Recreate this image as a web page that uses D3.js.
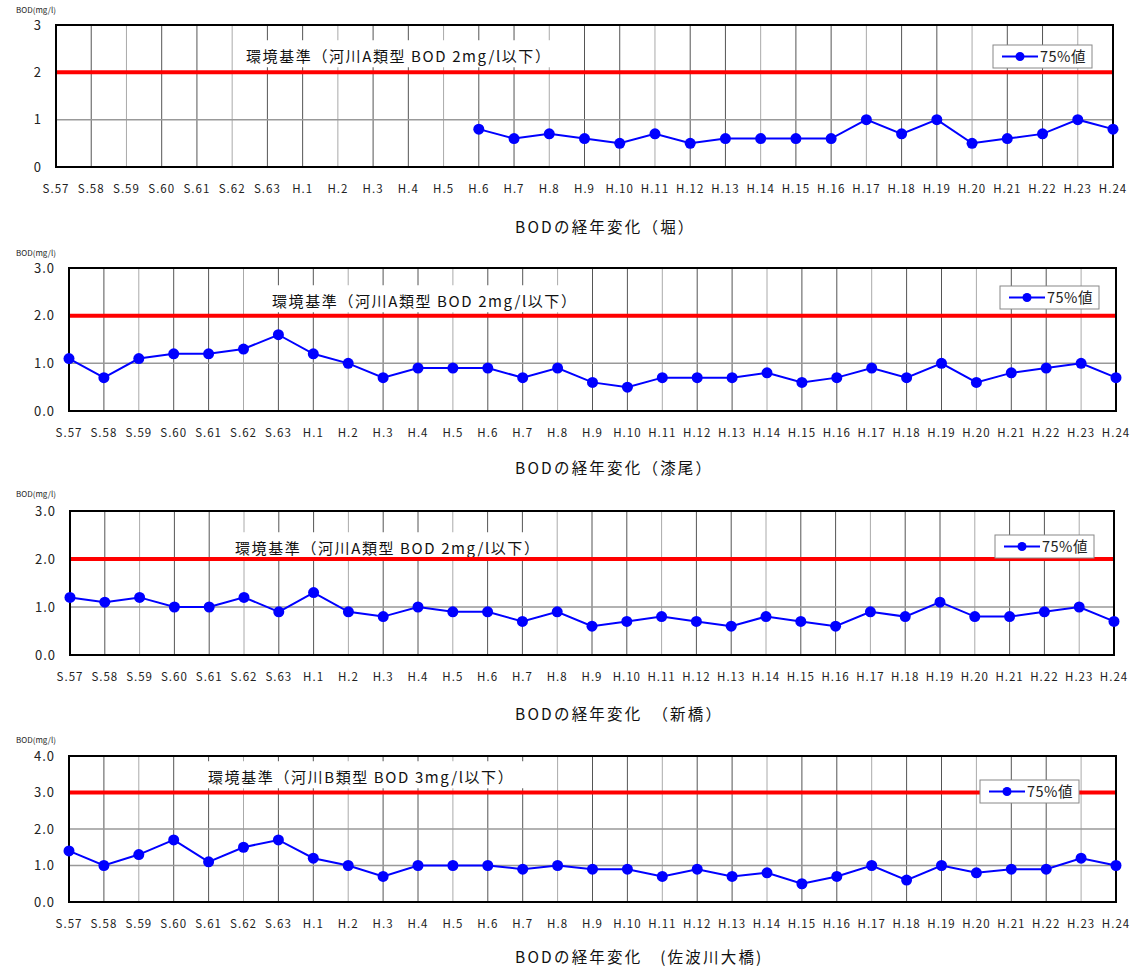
<!DOCTYPE html>
<html lang="ja">
<head>
<meta charset="utf-8">
<script src="https://cdn.jsdelivr.net/npm/d3@7"></script>
<style>
  html, body { margin: 0; padding: 0; background: #fff; }
  svg { display: block; font-family: "Noto Sans CJK JP", "Noto Sans", sans-serif; }
</style>
</head>
<body>
<svg id="chart" width="1136" height="967"></svg>
<script>
// Fiscal years (Showa 57 .. Heisei 24)
const years = ["S.57","S.58","S.59","S.60","S.61","S.62","S.63",
  "H.1","H.2","H.3","H.4","H.5","H.6","H.7","H.8","H.9","H.10","H.11","H.12",
  "H.13","H.14","H.15","H.16","H.17","H.18","H.19","H.20","H.21","H.22","H.23","H.24"];

// BOD 75% values (mg/l) per station; null = not measured
const horiValues = [null,null,null,null,null,null,null,null,null,null,null,null,
  0.8,0.6,0.7,0.6,0.5,0.7,0.5,0.6,0.6,0.6,0.6,1.0,0.7,1.0,0.5,0.6,0.7,1.0,0.8];
const urushioValues = [1.1,0.7,1.1,1.2,1.2,1.3,1.6,1.2,1.0,0.7,0.9,0.9,0.9,0.7,0.9,
  0.6,0.5,0.7,0.7,0.7,0.8,0.6,0.7,0.9,0.7,1.0,0.6,0.8,0.9,1.0,0.7];
const shinbashiValues = [1.2,1.1,1.2,1.0,1.0,1.2,0.9,1.3,0.9,0.8,1.0,0.9,0.9,0.7,0.9,
  0.6,0.7,0.8,0.7,0.6,0.8,0.7,0.6,0.9,0.8,1.1,0.8,0.8,0.9,1.0,0.7];
const sabagawaValues = [1.4,1.0,1.3,1.7,1.1,1.5,1.7,1.2,1.0,0.7,1.0,1.0,1.0,0.9,1.0,
  0.9,0.9,0.7,0.9,0.7,0.8,0.5,0.7,1.0,0.6,1.0,0.8,0.9,0.9,1.2,1.0];

// Environmental standard per river class
const standardA = 2;
const standardB = 3;
const standardTextA = "環境基準（河川A類型 BOD 2mg/l以下）";
const standardTextB = "環境基準（河川B類型 BOD 3mg/l以下）";

const yTicks3 = [0, 1, 2, 3];
const yTicks4 = [0, 1, 2, 3, 4];
const yUnitLabel = "BOD(mg/l)";
const legendLabel = "75%値";

const titles = ["BODの経年変化（堀）", "BODの経年変化（漆尾）",
  "BODの経年変化　（新橋）", "BODの経年変化　(佐波川大橋)"];

// Layout of each panel
const panels = [
  { values: horiValues, std: standardA, stdText: standardTextA, ticks: yTicks3, fmt: d3.format("d"),
    left: 56, right: 1113, top: 25, bottom: 167, annX: 246, annY: 57,
    legX: 993, legY: 45, unitY: 10, title: titles[0], titleY: 228 },
  { values: urushioValues, std: standardA, stdText: standardTextA, ticks: yTicks3, fmt: d3.format(".1f"),
    left: 69, right: 1116, top: 268, bottom: 411, annX: 272, annY: 302,
    legX: 1000, legY: 286, unitY: 253, title: titles[1], titleY: 469 },
  { values: shinbashiValues, std: standardA, stdText: standardTextA, ticks: yTicks3, fmt: d3.format(".1f"),
    left: 70, right: 1114, top: 511, bottom: 655, annX: 235, annY: 549,
    legX: 995, legY: 535, unitY: 494, title: titles[2], titleY: 715 },
  { values: sabagawaValues, std: standardB, stdText: standardTextB, ticks: yTicks4, fmt: d3.format(".1f"),
    left: 69, right: 1116, top: 756, bottom: 902, annX: 208, annY: 778,
    legX: 980, legY: 780, unitY: 740, title: titles[3], titleY: 958 }
];

const svg = d3.select("#chart");

panels.forEach(p => {
  const g = svg.append("g");
  const x = d3.scalePoint().domain(years).range([p.left, p.right]);
  const y = d3.scaleLinear().domain([0, d3.max(p.ticks)]).range([p.bottom, p.top]);

  // vertical grid
  g.append("g").selectAll("line").data(years).join("line")
    .attr("x1", d => x(d)).attr("x2", d => x(d))
    .attr("y1", p.top).attr("y2", p.bottom)
    .attr("stroke", (d, i) => i % 3 === 2 ? "#aaa" : "#555").attr("stroke-width", 1);

  // horizontal grid
  g.append("g").selectAll("line").data(p.ticks).join("line")
    .attr("x1", p.left).attr("x2", p.right)
    .attr("y1", d => y(d)).attr("y2", d => y(d))
    .attr("stroke", "#999").attr("stroke-width", 1.5);

  // standard annotation with white background
  const ann = g.append("text")
    .attr("x", p.annX).attr("y", p.annY).attr("dy", "0.35em")
    .attr("font-size", 15).attr("letter-spacing", 1.6).attr("fill", "#111").text(p.stdText);
  const bb = ann.node().getBBox();
  g.insert("rect", "text")
    .attr("x", bb.x - 12).attr("y", bb.y - 5)
    .attr("width", bb.width + 24).attr("height", bb.height + 6)
    .attr("fill", "#fff");

  // standard line
  g.append("line")
    .attr("x1", p.left).attr("x2", p.right)
    .attr("y1", y(p.std)).attr("y2", y(p.std))
    .attr("stroke", "#ff0000").attr("stroke-width", 4);

  // plot frame
  g.append("rect")
    .attr("x", p.left).attr("y", p.top)
    .attr("width", p.right - p.left).attr("height", p.bottom - p.top)
    .attr("fill", "none").attr("stroke", "#000").attr("stroke-width", 2);

  // y axis labels
  g.append("g").selectAll("text").data(p.ticks).join("text")
    .attr("x", p.left - 14).attr("y", d => y(d)).attr("dy", "0.35em")
    .attr("text-anchor", "end").attr("font-size", 13).attr("fill", "#222")
    .attr("letter-spacing", 1)
    .text(d => p.fmt(d));

  g.append("text").attr("x", 16).attr("y", p.unitY).attr("dy", "0.35em")
    .attr("font-size", 8).attr("fill", "#222").text(yUnitLabel);

  // x axis labels
  g.append("g").selectAll("text").data(years).join("text")
    .attr("x", d => x(d)).attr("y", p.bottom + 22).attr("dy", "0.35em")
    .attr("text-anchor", "middle").attr("font-size", 11.5).attr("fill", "#222")
    .attr("letter-spacing", 1)
    .text(d => d);

  // data series
  const pts = years.map((yr, i) => ({ yr, v: p.values[i] }));
  const line = d3.line().defined(d => d.v != null)
    .x(d => x(d.yr)).y(d => y(d.v));
  g.append("path").datum(pts)
    .attr("d", line).attr("fill", "none")
    .attr("stroke", "#0000ff").attr("stroke-width", 2);
  g.append("g").selectAll("circle").data(pts.filter(d => d.v != null)).join("circle")
    .attr("cx", d => x(d.yr)).attr("cy", d => y(d.v)).attr("r", 5.5)
    .attr("fill", "#0000ff");

  // legend
  const lg = g.append("g").attr("transform", `translate(${p.legX},${p.legY})`);
  lg.append("rect").attr("width", 99).attr("height", 23)
    .attr("fill", "#fff").attr("stroke", "#888").attr("stroke-width", 1);
  lg.append("line").attr("x1", 9).attr("x2", 45).attr("y1", 11.5).attr("y2", 11.5)
    .attr("stroke", "#0000ff").attr("stroke-width", 2);
  lg.append("circle").attr("cx", 27).attr("cy", 11.5).attr("r", 4.5).attr("fill", "#0000ff");
  lg.append("text").attr("x", 47).attr("y", 11.5).attr("dy", "0.35em")
    .attr("font-size", 14.5).attr("letter-spacing", 0.5).attr("fill", "#222").text(legendLabel);

  // panel title
  g.append("text").attr("x", 515).attr("y", p.titleY).attr("dy", "0.35em")
    .attr("font-size", 15.5).attr("letter-spacing", 2.2).attr("fill", "#111").text(p.title);
});
</script>
</body>
</html>
